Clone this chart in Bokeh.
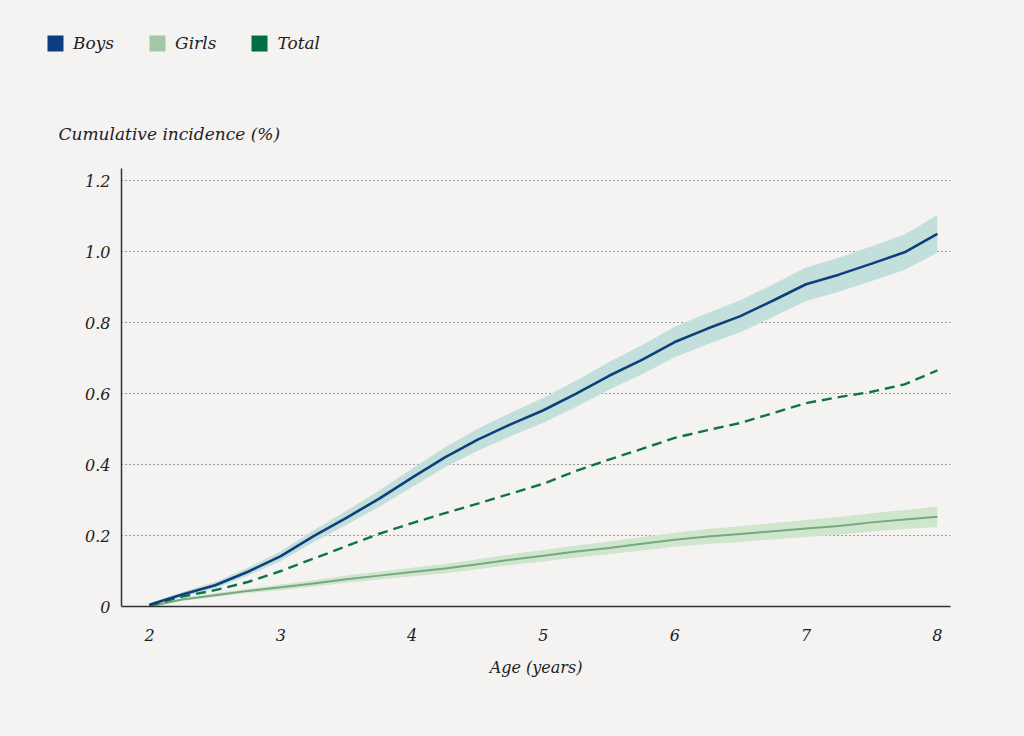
from bokeh.plotting import figure
from bokeh.layouts import column
from bokeh.models import Range1d, FixedTicker, Legend, LegendItem, Label, ColumnDataSource
from bokeh.embed import file_html
from bokeh.resources import INLINE

ages = [2.0, 2.25, 2.5, 2.75, 3.0, 3.25, 3.5, 3.75, 4.0, 4.25, 4.5, 4.75, 5.0,
        5.25, 5.5, 5.75, 6.0, 6.25, 6.5, 6.75, 7.0, 7.25, 7.5, 7.75, 8.0]
boys = [0.005, 0.034, 0.06, 0.098, 0.142, 0.198, 0.25, 0.304, 0.363, 0.42, 0.47, 0.513, 0.553,
        0.6, 0.65, 0.695, 0.745, 0.783, 0.818, 0.862, 0.908, 0.935, 0.966, 0.998, 1.05]
boys_ci = [0.004, 0.007, 0.009, 0.011, 0.014, 0.017, 0.02, 0.023, 0.026, 0.028, 0.031, 0.033, 0.035,
           0.037, 0.039, 0.041, 0.043, 0.044, 0.045, 0.046, 0.047, 0.048, 0.049, 0.05, 0.053]
girls = [0.0, 0.02, 0.032, 0.044, 0.054, 0.065, 0.077, 0.087, 0.097, 0.107, 0.119, 0.132, 0.143,
         0.155, 0.165, 0.177, 0.188, 0.197, 0.204, 0.212, 0.22, 0.227, 0.237, 0.245, 0.253]
girls_ci = [0.002, 0.004, 0.005, 0.006, 0.008, 0.009, 0.010, 0.011, 0.012, 0.013, 0.014, 0.015, 0.016,
            0.017, 0.018, 0.019, 0.02, 0.021, 0.022, 0.023, 0.024, 0.025, 0.026, 0.027, 0.029]
total = [0.003, 0.028, 0.046, 0.069, 0.1, 0.135, 0.17, 0.205, 0.235, 0.263, 0.29, 0.318, 0.346,
         0.382, 0.414, 0.444, 0.475, 0.497, 0.517, 0.545, 0.573, 0.59, 0.605, 0.626, 0.665]

x_ticks = [2, 3, 4, 5, 6, 7, 8]
y_ticks = [0, 0.2, 0.4, 0.6, 0.8, 1.0, 1.2]
y_tick_labels = ["0", "0.2", "0.4", "0.6", "0.8", "1.0", "1.2"]
series_names = ["Boys", "Girls", "Total"]
legend_colors = ["#0b3e7e", "#a3c8a6", "#007040"]

BG = "#f4f3f1"
FONT = "DejaVu Serif"
TXT = "#222222"
W = 1024
TOP_H = 160
NAN = float("nan")

# ---- header figure: legend + y-axis title ----
top = figure(width=W, height=TOP_H, output_backend="svg", toolbar_location=None,
             x_range=Range1d(0, 1), y_range=Range1d(0, 1),
             x_axis_type=None, y_axis_type=None,
             background_fill_color=BG, border_fill_color=BG,
             min_border=0, min_border_left=0, min_border_right=0, min_border_top=0, min_border_bottom=0)
top.outline_line_color = None
top.xgrid.visible = False
top.ygrid.visible = False
if "frame_align" in top.properties():
    top.frame_align = False

items = []
for name, col in zip(series_names, legend_colors):
    r = top.quad(left=[NAN], right=[NAN], top=[NAN], bottom=[NAN], fill_color=col, line_color=None)
    items.append(LegendItem(label=name, renderers=[r]))
legend = Legend(items=items, orientation="horizontal", location=(45, 107),
                glyph_width=20, glyph_height=20, label_standoff=8, spacing=33,
                padding=0, margin=0, border_line_color=None, background_fill_alpha=0,
                label_text_font=FONT, label_text_font_style="italic",
                label_text_font_size="17px", label_text_color=TXT)
top.add_layout(legend, "center")

ytitle = Label(x=58, y=TOP_H - 133, x_units="screen", y_units="screen",
               text="Cumulative incidence (%)", text_font=FONT, text_font_style="italic",
               text_font_size="17px", text_color=TXT, text_baseline="middle")
top.add_layout(ytitle)

# ---- main chart ----
p = figure(width=W, height=736 - TOP_H, output_backend="svg", toolbar_location=None,
           x_range=Range1d(1.787, 8.1), y_range=Range1d(0, 1.234),
           background_fill_color=BG, border_fill_color=BG,
           min_border_left=121, min_border_right=74, min_border_top=8, min_border_bottom=130)
p.outline_line_color = None
if "frame_align" in p.properties():
    p.frame_align = False

src = ColumnDataSource(dict(
    x=ages,
    boys=boys, boys_lo=[b - c for b, c in zip(boys, boys_ci)], boys_hi=[b + c for b, c in zip(boys, boys_ci)],
    girls=girls, girls_lo=[max(0, g - c) for g, c in zip(girls, girls_ci)], girls_hi=[g + c for g, c in zip(girls, girls_ci)],
    total=total))

p.varea(x="x", y1="boys_lo", y2="boys_hi", source=src, fill_color="#c3dfdb")
p.varea(x="x", y1="girls_lo", y2="girls_hi", source=src, fill_color="#cfe5cc")
p.line(x="x", y="girls", source=src, line_color="#76a882", line_width=2)
p.line(x="x", y="total", source=src, line_color="#0f7540", line_width=2.4, line_dash="10 6")
p.line(x="x", y="boys", source=src, line_color="#0d3f7c", line_width=2.6)

for ax in (p.xaxis[0], p.yaxis[0]):
    ax.axis_line_color = "#333333"
    ax.axis_line_width = 1.5
    ax.major_tick_line_color = None
    ax.minor_tick_line_color = None
    ax.major_label_text_font = FONT
    ax.major_label_text_font_style = "italic"
    ax.major_label_text_font_size = "16px"
    ax.major_label_text_color = TXT

p.xaxis.ticker = FixedTicker(ticks=x_ticks)
p.xaxis.major_label_standoff = 16
p.xaxis.axis_label = "Age (years)"
p.xaxis.axis_label_text_font = FONT
p.xaxis.axis_label_text_font_style = "italic"
p.xaxis.axis_label_text_font_size = "16px"
p.xaxis.axis_label_text_color = TXT
p.xaxis.axis_label_standoff = 14

p.yaxis.ticker = FixedTicker(ticks=y_ticks)
p.yaxis.major_label_overrides = {t: l for t, l in zip(y_ticks, y_tick_labels)}
p.yaxis.major_label_standoff = 5

p.xgrid.grid_line_color = None
p.ygrid.grid_line_color = "#444444"
p.ygrid.grid_line_dash = "1 3"
p.ygrid.grid_line_width = 1.2

layout = column(top, p, spacing=0, styles={"background-color": BG})
html = file_html(layout, INLINE)
html = html.replace("<body>", '<body style="margin:0;background:#f4f3f1;overflow:hidden">', 1)
html = html.replace("<html", '<html style="background:#f4f3f1"', 1)
open("out.html", "w").write(html)
